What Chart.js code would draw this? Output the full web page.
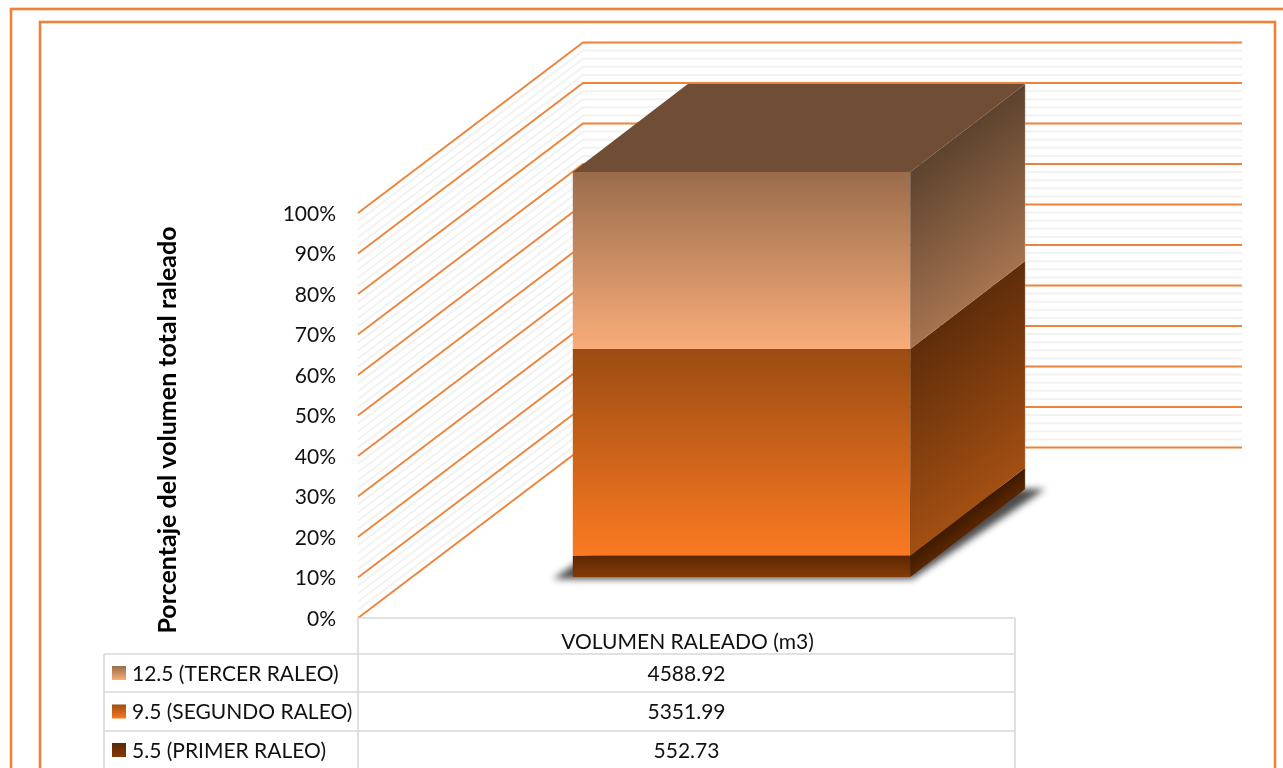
<!DOCTYPE html>
<html>
<head>
<meta charset="utf-8">
<title>Volumen raleado</title>
<script src="https://cdn.jsdelivr.net/npm/chart.js@4/dist/chart.umd.js"></script>
<style>
  html, body { margin: 0; padding: 0; background: #fff; overflow: hidden; }
  canvas { display: block; }
</style>
</head>
<body>
<canvas id="chart" width="1283" height="768"></canvas>
<script>
// data, bottom of the stack first
const categories = ['VOLUMEN RALEADO (m3)'];
const seriesLabels = ['5.5 (PRIMER RALEO)', '9.5 (SEGUNDO RALEO)', '12.5 (TERCER RALEO)'];
const volumes = [552.73, 5351.99, 4588.92];
const yTitle = 'Porcentaje del volumen total raleado';

// colours per series
const frontTop = ['#5c2703', '#9b4c12', '#9a6c4c'];
const frontBottom = ['#843a06', '#fb7a22', '#f9ad7a'];
const sideFrom = ['#3f1a00', '#5f2d0a', '#5d432e'];
const sideTo = ['#5a2600', '#a34f12', '#a5734f'];

const ORANGE = '#ee8238';
const TEXT = '#111';
const FONT = 'Lato';
const total = volumes.reduce((a, b) => a + b, 0);
const shares = volumes.map(v => v / total * 100);

// fake 3D: how far the back wall and the column sit behind the axis plane
const wallDepth = { x: 225, y: -170.5 };
const barShift = { x: 54, y: -41 };
const barDepth = { x: 115, y: -88 };

function barBox(chart, i) {
  const el = chart.getDatasetMeta(i).data[0];
  return {
    left: el.x - el.width / 2 + barShift.x,
    right: el.x + el.width / 2 + barShift.x,
    top: el.y + barShift.y,
    bottom: el.base + barShift.y
  };
}

function poly(ctx, pts, fill) {
  ctx.beginPath();
  pts.forEach((p, i) => i ? ctx.lineTo(p[0], p[1]) : ctx.moveTo(p[0], p[1]));
  ctx.closePath();
  ctx.fillStyle = fill;
  ctx.fill();
}

function line(ctx, pts, color, width) {
  ctx.beginPath();
  pts.forEach((p, i) => i ? ctx.lineTo(p[0], p[1]) : ctx.moveTo(p[0], p[1]));
  ctx.strokeStyle = color;
  ctx.lineWidth = width;
  ctx.stroke();
}

const frame3d = {
  id: 'frame3d',
  beforeDatasetsDraw(chart) {
    const ctx = chart.ctx, y = chart.scales.y, a = chart.chartArea;
    ctx.save();

    // outer frames run off the picture
    ctx.strokeStyle = ORANGE;
    ctx.lineWidth = 2.6;
    ctx.strokeRect(11, 9, 1300, 800);
    ctx.strokeRect(40, 22, 1235, 800);

    // side and back walls, light lines every 2%, orange every 10%
    for (let v = 0; v <= 100; v += 2) {
      const p = y.getPixelForValue(v);
      const major = v % 10 === 0;
      line(ctx, [
        [a.left, p],
        [a.left + wallDepth.x, p + wallDepth.y],
        [a.right + wallDepth.x, p + wallDepth.y]
      ], major ? ORANGE : '#f2f2f2', major ? 1.8 : 2);
    }

    // shadow under the column
    const base = barBox(chart, 0);
    ctx.save();
    ctx.filter = 'blur(3.5px)';
    poly(ctx, [
      [base.left - 20, base.bottom + 2],
      [base.right + 2, base.bottom + 2],
      [base.right + barDepth.x + 20, base.bottom + barDepth.y],
      [base.left + barDepth.x, base.bottom + barDepth.y]
    ], 'rgba(0,0,0,0.7)');
    ctx.restore();

    ctx.restore();

    // the bars themselves are drawn by chart.js, moved back into the box
    ctx.save();
    ctx.translate(barShift.x, barShift.y);
  },
  afterDatasetsDraw(chart) {
    const ctx = chart.ctx;
    ctx.restore();
    ctx.save();

    // right side faces, shading runs along the slant of the face
    const nLen = barDepth.x * barDepth.x + barDepth.y * barDepth.y;
    volumes.forEach((v, i) => {
      const b = barBox(chart, i);
      const h = b.bottom - b.top;
      const g = ctx.createLinearGradient(
        b.right, b.top,
        b.right + (-barDepth.y * barDepth.x / nLen) * h,
        b.top + (barDepth.x * barDepth.x / nLen) * h
      );
      g.addColorStop(0, sideFrom[i]);
      g.addColorStop(1, sideTo[i]);
      poly(ctx, [
        [b.right, b.top],
        [b.right + barDepth.x, b.top + barDepth.y],
        [b.right + barDepth.x, b.bottom + barDepth.y],
        [b.right, b.bottom]
      ], g);
    });

    // top face
    const t = barBox(chart, volumes.length - 1);
    const f = barBox(chart, 0);
    poly(ctx, [
      [t.left, t.top],
      [t.left + barDepth.x, t.top + barDepth.y],
      [t.right + barDepth.x, t.top + barDepth.y],
      [t.right, t.top]
    ], '#6f4e35');

    // thin pale edge on the back of the side face
    line(ctx, [
      [t.right + barDepth.x, t.top + barDepth.y],
      [f.right + barDepth.x, f.bottom + barDepth.y]
    ], 'rgba(255,255,255,0.25)', 1);

    ctx.restore();
  },
  afterDraw(chart) {
    const ctx = chart.ctx, a = chart.chartArea;
    const rowTop = [654, 692, 731, 769];
    const tableLeft = 104, tableRight = a.right - 2;
    ctx.save();

    // data table
    const GRID = '#d9d9d9';
    line(ctx, [[a.left, a.bottom], [tableRight, a.bottom]], GRID, 1.6);
    line(ctx, [[a.left, a.bottom], [a.left, 768]], GRID, 1.6);
    line(ctx, [[tableRight, a.bottom], [tableRight, 768]], GRID, 1.6);
    line(ctx, [[tableLeft, rowTop[0]], [tableLeft, 768]], GRID, 1.6);
    rowTop.forEach(y => line(ctx, [[tableLeft, y], [tableRight, y]], GRID, 1.6));

    ctx.font = '21px ' + FONT;
    ctx.textBaseline = 'middle';
    for (let r = 0; r < volumes.length; r++) {
      const i = volumes.length - 1 - r;
      const mid = (rowTop[r] + rowTop[r + 1]) / 2;
      const g = ctx.createLinearGradient(0, mid - 7, 0, mid + 7);
      g.addColorStop(0, frontTop[i]);
      g.addColorStop(1, frontBottom[i]);
      ctx.fillStyle = g;
      ctx.fillRect(112, mid - 7, 14, 14);
      ctx.fillStyle = TEXT;
      ctx.textAlign = 'left';
      ctx.fillText(seriesLabels[i], 132, mid + 1);
      ctx.textAlign = 'center';
      ctx.fillText(volumes[i].toFixed(2), (a.left + tableRight) / 2, mid + 1);
    }

    // axis title sits lower than the scale centre in the original
    ctx.translate(168, 430);
    ctx.rotate(-Math.PI / 2);
    ctx.font = 'bold 25px ' + FONT;
    ctx.fillStyle = '#000';
    ctx.textAlign = 'center';
    ctx.fillText(yTitle, 0, 0);

    ctx.restore();
  }
};

new Chart(document.getElementById('chart'), {
  type: 'bar',
  data: {
    labels: categories,
    datasets: shares.map((s, i) => ({
      label: seriesLabels[i],
      data: [s],
      clip: false,
      borderWidth: 0,
      backgroundColor(c) {
        const y = c.chart.scales.y;
        if (!y || !c.chart.chartArea) return frontBottom[i];
        const start = shares.slice(0, i).reduce((a, b) => a + b, 0);
        const g = c.chart.ctx.createLinearGradient(0, y.getPixelForValue(start + s), 0, y.getPixelForValue(start));
        g.addColorStop(0, frontTop[i]);
        g.addColorStop(1, frontBottom[i]);
        return g;
      }
    }))
  },
  options: {
    responsive: false,
    animation: false,
    events: [],
    categoryPercentage: 0.512,
    barPercentage: 1,
    layout: { padding: { left: 200, right: 1283 - 1017, top: 213, bottom: 0 } },
    plugins: { legend: { display: false }, tooltip: { enabled: false }, title: { display: false } },
    scales: {
      x: {
        stacked: true,
        grid: { display: false, drawTicks: false },
        border: { display: false },
        afterFit(s) { s.height = 768 - 618; },
        ticks: { color: TEXT, font: { family: FONT, size: 21 }, padding: 12, maxRotation: 0 }
      },
      y: {
        stacked: true,
        min: 0,
        max: 100,
        grid: { display: false, drawTicks: false },
        border: { display: false },
        afterFit(s) { s.width = 358 - 200; },
        ticks: {
          stepSize: 10,
          padding: 22,
          labelOffset: 1,
          color: TEXT,
          font: { family: FONT, size: 21 },
          callback: v => v + '%'
        }
      }
    }
  },
  plugins: [frame3d]
});
</script>
</body>
</html>
